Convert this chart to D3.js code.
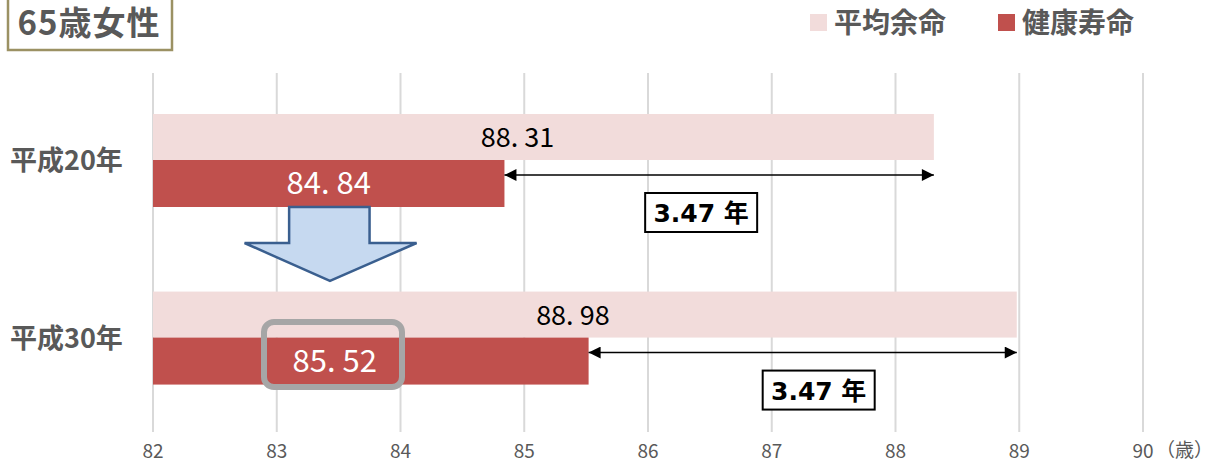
<!DOCTYPE html>
<head>
<meta charset="UTF-8">
<script src="https://cdn.jsdelivr.net/npm/d3@7"></script>
<style>
body { margin: 0; background: #fff; }
svg { display: block; font-family: "Noto Sans CJK JP", "Noto Sans", sans-serif; }
.grid line { stroke: #d9d9d9; stroke-width: 2px; }
.tick text { fill: #595959; font-size: 19px; }
.cat { fill: #595959; font-size: 27px; font-weight: bold; }
.legend text { fill: #595959; font-size: 28px; font-weight: bold; }
.diff { font-family: "DejaVu Sans", "Noto Sans CJK JP", sans-serif; font-size: 25px; font-weight: bold; }
</style>
</head>
<body>
<script>

var categories = ["平成20年", "平成30年"];
var avgLife    = [88.31, 88.98];
var healthLife = [84.84, 85.52];
var diffLabels = ["3.47 年", "3.47 年"];
var ticks      = [82, 83, 84, 85, 86, 87, 88, 89, 90];

var width = 1216, height = 465;

var x = d3.scaleLinear().domain([82, 90]).range([153, 1143]);
var y = d3.scaleBand().domain(categories).range([102, 395]).paddingInner(0.35);

var svg = d3.select("body").append("svg")
    .attr("width", width)
    .attr("height", height);

// grid
var grid = svg.append("g").attr("class", "grid");
grid.selectAll("line")
    .data(ticks)
  .enter().append("line")
    .attr("x1", d => x(d)).attr("x2", d => x(d))
    .attr("y1", 73).attr("y2", 432);

// axis labels
var ax = svg.append("g").attr("class", "tick");
ax.selectAll("text")
    .data(ticks)
  .enter().append("text")
    .attr("x", d => x(d))
    .attr("y", 458)
    .attr("text-anchor", "middle")
    .text(d => d);
ax.append("text")
    .attr("x", 1156)
    .attr("y", 457)
    .text("（歳）");

var bh = 46;
// small nudges so labels sit where the original put them
var avgOff = [-26, -12], healthOff = [0, -36], boxOff = [-18, 16];

var rows = svg.append("g").selectAll("g")
    .data(categories)
  .enter().append("g");

// average life bars
rows.append("rect")
    .attr("x", x(82))
    .attr("y", d => y(d) + 12)
    .attr("width", (d, i) => x(avgLife[i]) - x(82))
    .attr("height", bh)
    .attr("fill", "#f2dcdb");

// healthy life bars
rows.append("rect")
    .attr("x", x(82))
    .attr("y", d => y(d) + 12 + bh)
    .attr("width", (d, i) => x(healthLife[i]) - x(82))
    .attr("height", bh + 1)
    .attr("fill", "#c0504d");

// category labels
rows.append("text")
    .attr("class", "cat")
    .attr("x", 10)
    .attr("y", d => y(d) + 12 + bh + 10)
    .text(d => d);

// value labels
rows.append("text")
    .attr("x", (d, i) => (x(82) + x(avgLife[i])) / 2 + avgOff[i])
    .attr("y", d => y(d) + 12 + bh / 2 + 10)
    .attr("text-anchor", "middle")
    .style("font-size", "27px")
    .attr("fill", "#000")
    .text((d, i) => avgLife[i].toFixed(2).replace(".", ". "));

rows.append("text")
    .attr("x", (d, i) => (x(82) + x(healthLife[i])) / 2 + healthOff[i])
    .attr("y", d => y(d) + 12 + bh + bh / 2 + 11)
    .attr("text-anchor", "middle")
    .style("font-size", "31px")
    .attr("fill", "#fff")
    .text((d, i) => healthLife[i].toFixed(2).replace(".", ". "));

// difference arrows
var defs = svg.append("defs");
["s", "e"].forEach(function(k) {
  defs.append("marker")
      .attr("id", "arr-" + k)
      .attr("viewBox", "0 0 10 10")
      .attr("refX", k == "e" ? 10 : 0).attr("refY", 5)
      .attr("markerWidth", 14).attr("markerHeight", 12)
      .attr("markerUnits", "userSpaceOnUse")
      .attr("orient", "auto")
    .append("path")
      .attr("d", k == "e" ? "M0,0 L10,5 L0,10 Z" : "M10,0 L0,5 L10,10 Z")
      .attr("fill", "#000");
});

rows.append("line")
    .attr("x1", (d, i) => x(healthLife[i]))
    .attr("x2", (d, i) => x(avgLife[i]))
    .attr("y1", d => y(d) + 12 + bh + 15)
    .attr("y2", d => y(d) + 12 + bh + 15)
    .attr("stroke", "#000")
    .attr("stroke-width", 1.5)
    .attr("marker-start", "url(#arr-s)")
    .attr("marker-end", "url(#arr-e)");

rows.each(function(d, i) {
  var g = d3.select(this);
  var cx = (x(healthLife[i]) + x(avgLife[i])) / 2 + boxOff[i];
  var top = y(d) + 12 + bh + 33;
  g.append("rect")
      .attr("x", cx - 56).attr("y", top)
      .attr("width", 112).attr("height", 39)
      .attr("fill", "#fff")
      .attr("stroke", "#000")
      .attr("stroke-width", 2);
  g.append("text")
      .attr("class", "diff")
      .attr("x", cx)
      .attr("y", top + 29)
      .attr("text-anchor", "middle")
      .text(diffLabels[i]);
});

// big down arrow between rows
var ax0 = x(83.1), ax1 = x(83.75), hx0 = x(82.74), hx1 = x(84.13), tipX = x(83.43);
var y0 = y(categories[0]) + 12 + 2 * bh + 1, yh = 243, yt = 281;
svg.append("path")
    .attr("d", "M" + ax0 + "," + y0 + " L" + ax1 + "," + y0 + " L" + ax1 + "," + yh +
               " L" + hx1 + "," + yh + " L" + tipX + "," + yt + " L" + hx0 + "," + yh +
               " L" + ax0 + "," + yh + " Z")
    .attr("fill", "#c6d9f0")
    .attr("stroke", "#3a5f8f")
    .attr("stroke-width", 2.5)
    .attr("stroke-linejoin", "miter");

// highlight box on 85.52
svg.append("rect")
    .attr("x", 264).attr("y", 322)
    .attr("width", 138).attr("height", 65)
    .attr("rx", 10)
    .attr("fill", "none")
    .attr("stroke", "#a6a6a6")
    .attr("stroke-width", 6);

// title
svg.append("rect")
    .attr("x", 8).attr("y", -2)
    .attr("width", 164).attr("height", 52)
    .attr("fill", "#fff")
    .attr("stroke", "#9b9163")
    .attr("stroke-width", 2.5);
svg.append("text")
    .attr("x", 89).attr("y", 35)
    .attr("text-anchor", "middle")
    .attr("fill", "#595959")
    .style("font-size", "33px")
    .style("font-weight", "bold")
    .style("letter-spacing", "1px")
    .text("65歳女性");

// legend
var legend = svg.append("g").attr("class", "legend");
var items = [["平均余命", "#f2dcdb", 810], ["健康寿命", "#c0504d", 998]];
items.forEach(function(it) {
  legend.append("rect")
      .attr("x", it[2]).attr("y", 14)
      .attr("width", 17).attr("height", 17)
      .attr("fill", it[1]);
  legend.append("text")
      .attr("x", it[2] + 24).attr("y", 33)
      .text(it[0]);
});

</script>
</body>
